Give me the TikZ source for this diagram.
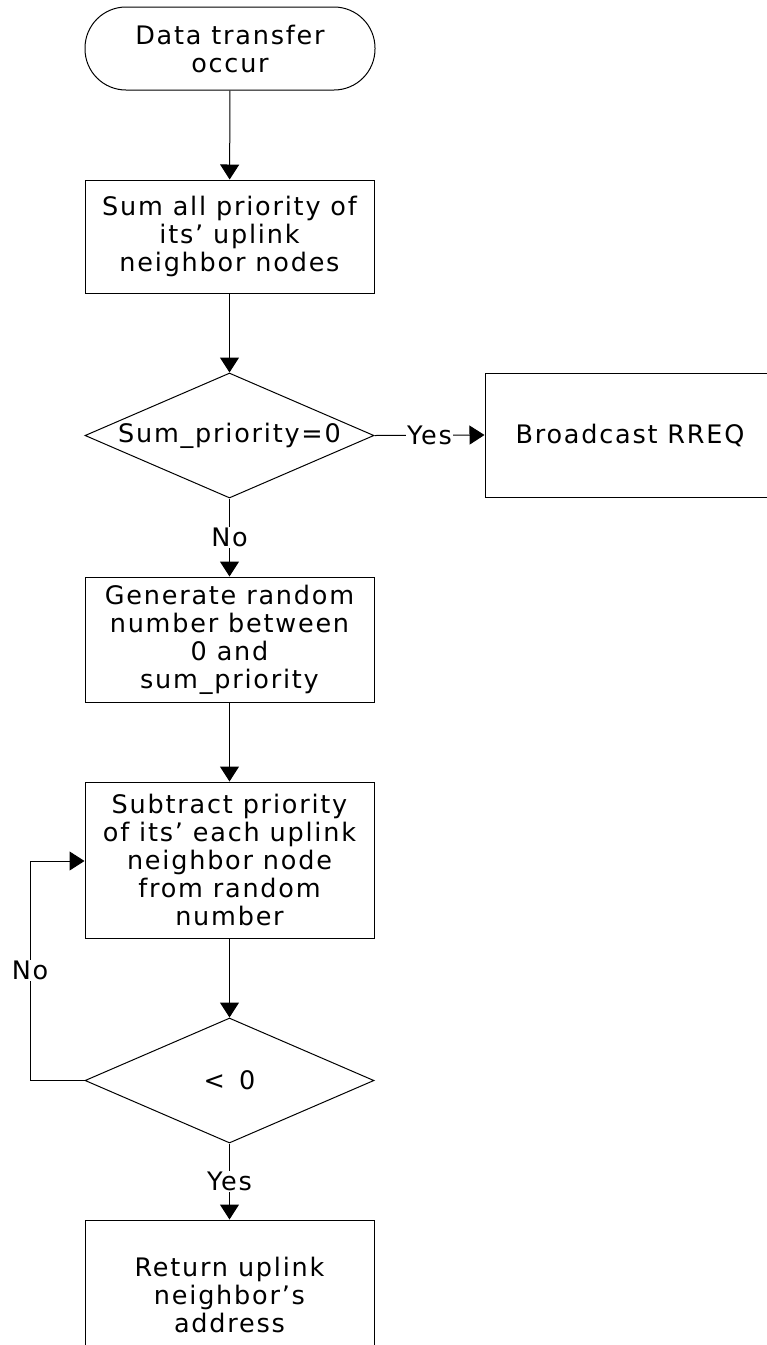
\documentclass[tikz,border=0pt]{standalone}
\usepackage{fontspec}
\setmainfont[LetterSpace=7]{DejaVu Sans}
\usetikzlibrary{shapes.geometric,arrows.meta}
\begin{document}
\begin{tikzpicture}[x=1pt,y=-1pt,
  font=\fontsize{25.5}{28}\selectfont,
  box/.style={draw,line width=1pt,minimum width=289pt,inner sep=0pt,align=center},
  dia/.style={draw,diamond,line width=1pt,minimum width=289pt,minimum height=125pt,inner sep=0pt},
  term/.style={draw,line width=1pt,rounded corners=41pt,minimum width=290pt,minimum height=83pt,inner sep=0pt,align=center},
  arr/.style={line width=1pt,-{Triangle[width=19pt,length=15pt]}},
  lbl/.style={fill=white,inner sep=1pt}
]
\useasboundingbox (0,0) rectangle (767,1345);
\clip (0,0) rectangle (767,1345);

\node[term] (start) at (230,48.5) {Data transfer\\occur};
\node[box,minimum height=113pt] (b1) at (229.5,236.5) {Sum all priority of\\its’ uplink\\neighbor nodes};
\node[dia] (d1) at (229.5,435.5) {};
\node (d1t) at (d1.center) {Sum\_priority=0};
\node[box,minimum width=290pt,minimum height=124pt] (bc) at (630,435) {Broadcast RREQ};
\node[box,minimum height=125pt] (b3) at (229.5,639.5) {Generate random\\number between\\0 and\\sum\_priority};
\node[box,minimum height=156pt] (b4) at (229.5,860) {Subtract priority\\of its’ each uplink\\neighbor node\\from random\\number};
\node[dia] (d2) at (229.5,1080.5) {};
\node (d2t) at (d2.center) {<\, 0};
\node[box,minimum height=150pt] (b5) at (229.5,1295) {Return uplink\\neighbor’s\\address};

\draw[arr] (start) -- (b1);
\draw[arr] (b1) -- (d1);
\draw[arr] (d1.east) -- node[lbl] {Yes} (bc.west);
\draw[arr] (d1.south) -- node[lbl] {No} (b3.north);
\draw[arr] (b3) -- (b4);
\draw[arr] (b4) -- (d2);
\coordinate (lb) at (30,1080.5);
\coordinate (lt) at (30,861);
\draw[arr] (d2.west) -- (lb) -- node[lbl] {No} (lt) -- (b4.west |- lt);
\draw[arr] (d2.south) -- node[lbl] {Yes} (b5.north);
\end{tikzpicture}
\end{document}
